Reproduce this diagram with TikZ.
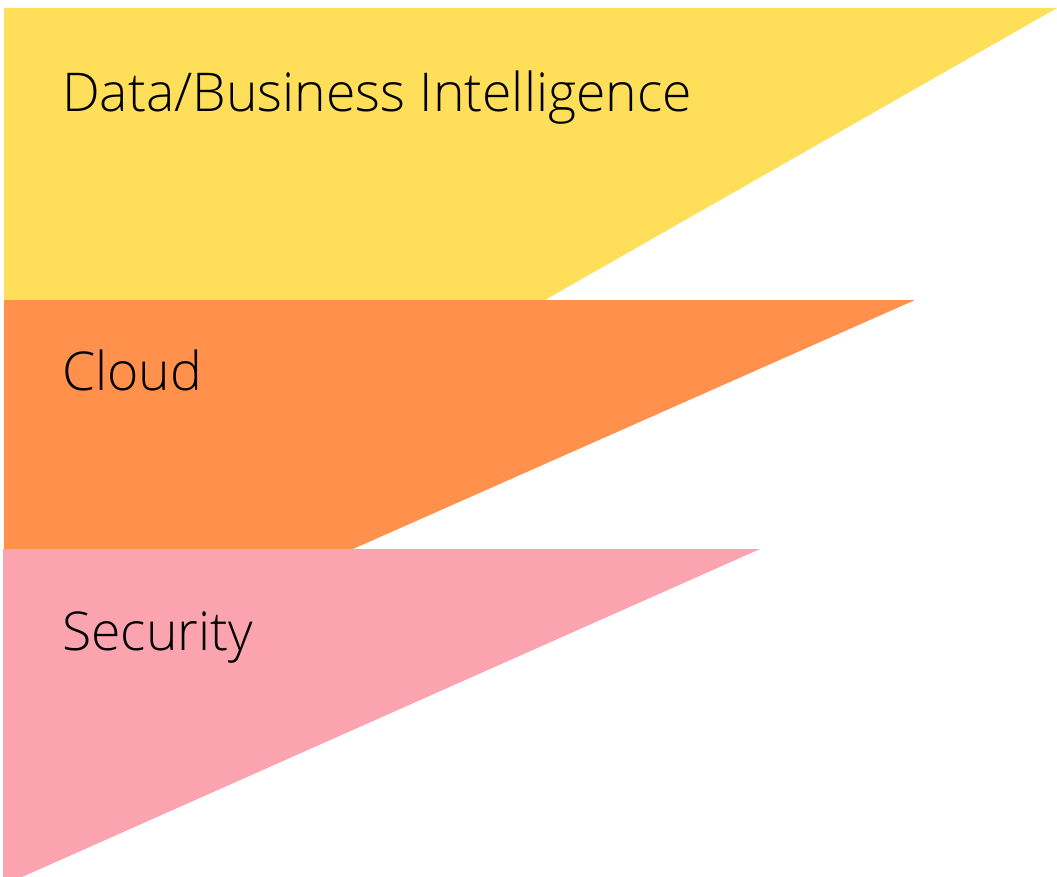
\documentclass[tikz,border=0pt]{standalone}
\usepackage{fontspec}
\setmainfont{Open Sans Light}
\definecolor{cyellow}{HTML}{FFDE59}
\definecolor{corange}{HTML}{FF914D}
\definecolor{cpink}{HTML}{FBA3AF}
\begin{document}
\begin{tikzpicture}[x=1pt,y=-1pt,
  label/.style={anchor=base west,inner sep=0pt,font=\fontsize{53.5}{58}\selectfont,text=black}]
\useasboundingbox (0,0) rectangle (1057,877);
\fill[cyellow] (4,8) -- (1057,8) -- (545,300) -- (4,300) -- cycle;
\fill[corange] (4,300) -- (915,300) -- (353,549) -- (4,549) -- cycle;
\fill[cpink] (3,549) -- (760,549) -- (22,877) -- (3,877) -- cycle;
\node[label] (dbi) at (62,112) {Data/Business Intelligence};
\node[label] (cloud) at (62,390) {Cloud};
\node[label] (sec) at (62,650) {Security};
\end{tikzpicture}
\end{document}
